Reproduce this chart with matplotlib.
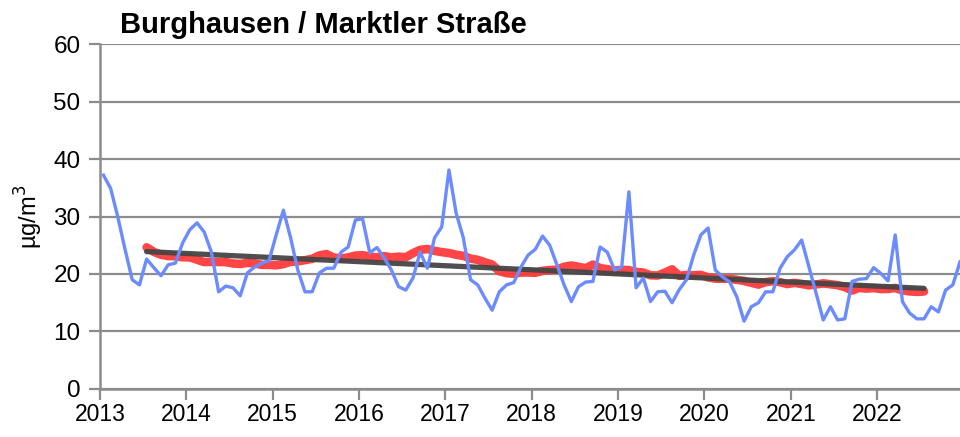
import numpy as np
import pandas as pd
import matplotlib
matplotlib.use("Agg")
import matplotlib.pyplot as plt

plt.rcParams['font.family'] = ['Liberation Sans', 'DejaVu Sans']

# monthly mean values Jan 2013 .. Dec 2022 (µg/m³)
monthly = [
    37.2, 34.9, 29.9, 24.3, 19.0, 18.1, 22.6, 21.1, 19.7, 21.6, 21.9, 25.4,   # 2013
    27.7, 28.9, 27.3, 23.8, 16.9, 17.9, 17.6, 16.2, 20.2, 21.2, 21.9, 22.3,   # 2014
    26.8, 31.1, 26.3, 20.7, 16.9, 16.9, 20.2, 21.0, 21.0, 23.8, 24.7, 29.4,   # 2015
    29.6, 23.7, 24.6, 22.8, 20.7, 17.8, 17.2, 19.3, 23.8, 21.0, 26.3, 28.2,   # 2016
    38.1, 30.6, 26.3, 19.0, 18.1, 15.8, 13.7, 16.9, 18.1, 18.5, 21.2, 23.3,   # 2017
    24.3, 26.6, 25.0, 21.6, 18.1, 15.2, 17.8, 18.6, 18.7, 24.7, 23.8, 20.7,   # 2018
    21.2, 34.3, 17.6, 19.3, 15.2, 16.9, 17.0, 15.0, 17.3, 19.0, 23.3, 26.8,   # 2019
    28.0, 20.7, 19.5, 18.6, 16.0, 11.8, 14.3, 15.0, 16.9, 16.9, 21.0, 23.0,   # 2020
    24.2, 25.9, 21.3, 16.7, 12.0, 14.3, 12.0, 12.2, 18.7, 19.1, 19.2, 21.1,   # 2021
    20.1, 18.8, 26.8, 15.2, 13.2, 12.2, 12.2, 14.3, 13.4, 17.2, 18.1, 22.1,   # 2022
]
years = [str(y) for y in range(2013, 2023)]

# trend line end points
trend_start = 23.9
trend_end = 17.5

s = pd.Series(monthly)
pos = np.arange(len(s)) + 0.5

# centred 12-month running mean
running = s.rolling(12).mean().shift(-5)
mask = running.notna()

fig = plt.figure(figsize=(9.6, 4.37), dpi=100)
ax = fig.add_axes([0.104, 0.110, 0.896, 0.789])

ax.plot(pos[mask], running[mask], color='#FF3B3B', lw=6.2, solid_capstyle='round', zorder=2, alpha=0.95)
ax.plot([pos[mask][0], pos[mask][-1]], [trend_start, trend_end], color='#454545', lw=3.8,
        solid_capstyle='round', zorder=3, alpha=0.95)
ax.plot(pos, s, color='#6B8BFF', lw=2.4, zorder=4)

ax.set_ylim(0, 60)
ax.set_xlim(0, 119.5)
ax.set_yticks(range(0, 61, 10))
ax.set_xticks(np.arange(0, 120, 12))
ax.set_xticklabels(years)

ax.grid(axis='y', color='#8C8C8C', lw=1.6, zorder=0)
ax.set_axisbelow(True)
for sp in ['top', 'right']:
    ax.spines[sp].set_visible(False)
for sp in ['left', 'bottom']:
    ax.spines[sp].set_color('#8C8C8C')
    ax.spines[sp].set_linewidth(1.8)
ax.tick_params(axis='both', length=8, width=1.6, color='#8C8C8C', direction='out')
ax.tick_params(axis='y', pad=6, labelsize=17.5)
ax.tick_params(axis='x', pad=2, labelsize=16.5)

ax.set_ylabel('µg/m$^3$', fontsize=17, labelpad=6)
fig.text(0.125, 0.943, 'Burghausen / Marktler Straße', fontsize=21, fontweight='bold', ha='left', va='center')

fig.savefig('out.png', dpi=100)
